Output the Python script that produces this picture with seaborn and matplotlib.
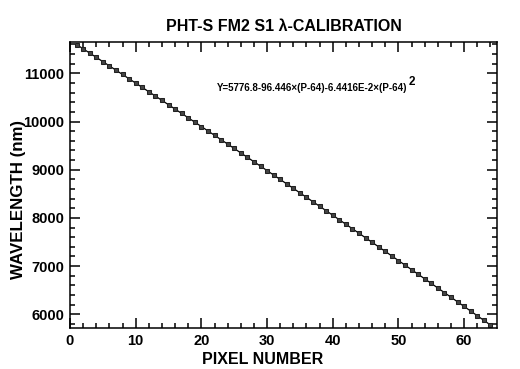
import numpy as np
import pandas as pd
import matplotlib
matplotlib.use("Agg")
import matplotlib.pyplot as plt
from matplotlib.ticker import MultipleLocator
import seaborn as sns

# data (pixel number vs wavelength in nm)
pixel = list(range(1, 65))
wavelength = [
    11597.2, 11508.8, 11420.3, 11331.7, 11242.9, 11154.0, 11064.9, 10975.8,
    10886.5, 10797.0, 10707.5, 10617.8, 10528.0, 10438.1, 10348.0, 10257.8,
    10167.5, 10077.0, 9986.4, 9895.7, 9804.9, 9713.9, 9622.8, 9531.6,
    9440.2, 9348.7, 9257.1, 9165.4, 9073.5, 8981.5, 8889.4, 8797.1,
    8704.7, 8612.2, 8519.6, 8426.8, 8333.9, 8240.9, 8147.7, 8054.4,
    7961.0, 7867.4, 7773.8, 7680.0, 7586.0, 7492.0, 7397.8, 7303.4,
    7209.0, 7114.4, 7019.7, 6924.9, 6829.9, 6734.8, 6639.6, 6544.2,
    6448.8, 6353.2, 6257.4, 6161.6, 6065.6, 5969.4, 5873.2, 5776.8,
]

title = "PHT-S FM2 S1 \u03bb-CALIBRATION"
fit_label = "Y=5776.8-96.446\u00d7(P-64)-6.4416E-2\u00d7(P-64)"

df = pd.DataFrame({"pixel": pixel, "wavelength": wavelength})

sns.set_style("ticks")
plt.rcParams["font.family"] = ["Liberation Sans", "DejaVu Sans"]
for key in ["text.color", "axes.labelcolor", "xtick.color", "ytick.color",
            "axes.edgecolor"]:
    plt.rcParams[key] = "black"

fig = plt.figure(figsize=(5.2, 3.69), dpi=100)
ax = fig.add_axes([0.1346, 0.1111, 0.8212, 0.7751])

sns.lineplot(data=df, x="pixel", y="wavelength", ax=ax, color="black",
             linewidth=0.9, marker="s", markersize=2.3,
             markeredgecolor="#222222", markerfacecolor="#444444")

ax.set_xlim(0, 65)
ax.set_ylim(5715, 11650)
ax.xaxis.set_major_locator(MultipleLocator(10))
ax.xaxis.set_minor_locator(MultipleLocator(2))
ax.yaxis.set_major_locator(MultipleLocator(1000))
ax.yaxis.set_minor_locator(MultipleLocator(200))
ax.tick_params(which="both", direction="in", top=True, right=True,
               color="black", width=1.1)
ax.tick_params(which="major", length=7, labelsize=10.5, pad=4)
ax.tick_params(which="minor", length=3.5)
for lbl in ax.get_xticklabels() + ax.get_yticklabels():
    lbl.set_fontweight("bold")
for sp in ax.spines.values():
    sp.set_linewidth(1.1)

ax.set_xlabel("PIXEL NUMBER", fontsize=11.5, fontweight="bold")
ax.set_ylabel("WAVELENGTH (nm)", fontsize=12.2, fontweight="bold")
ax.xaxis.set_label_coords(0.452, -0.084)
ax.yaxis.set_label_coords(-0.103, 0.451)
ax.set_title(title, fontsize=11.5, fontweight="bold", pad=8)

t = ax.text(22.4, 10690, fit_label, fontsize=7.0, fontweight="bold",
            va="center", ha="left")
ax.annotate("2", xy=(1, 0.5), xycoords=t, xytext=(0.4, 0),
            textcoords="offset points", fontsize=8.5, fontweight="bold",
            va="bottom", ha="left")

fig.savefig("out.png", dpi=100)
